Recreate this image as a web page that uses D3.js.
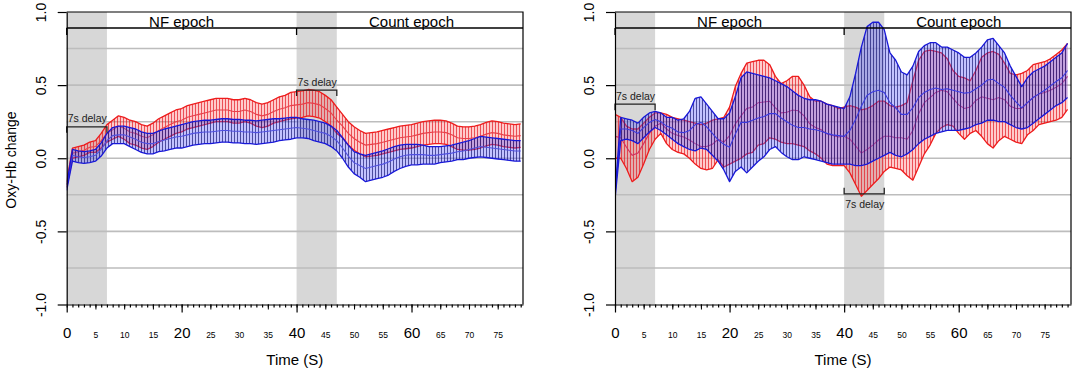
<!DOCTYPE html>
<html>
<head>
<meta charset="utf-8">
<script src="https://cdnjs.cloudflare.com/ajax/libs/d3/7.8.5/d3.min.js"></script>
<style>
  body { margin: 0; background: #fff; }
  svg { font-family: "Liberation Sans", Arial, sans-serif; }
</style>
</head>
<body>
<div id="chart"></div>
<script>

// time in seconds, one sample per second
var time = d3.range(0, 80);

// left panel: mean and standard error, red and blue groups
var leftRedMean = [
  -0.18, 0.035, 0.045, 0.055, 0.075, 0.08, 0.12, 0.17, 0.195, 0.22,
  0.205, 0.18, 0.17, 0.15, 0.14, 0.16, 0.19, 0.21, 0.23, 0.25,
  0.26, 0.28, 0.29, 0.30, 0.31, 0.32, 0.33, 0.33, 0.33, 0.32,
  0.32, 0.33, 0.32, 0.30, 0.29, 0.30, 0.32, 0.335, 0.345, 0.36,
  0.365, 0.37, 0.38, 0.375, 0.365, 0.34, 0.31, 0.26, 0.22, 0.17,
  0.135, 0.11, 0.09, 0.095, 0.10, 0.11, 0.12, 0.13, 0.14, 0.145,
  0.15, 0.16, 0.17, 0.175, 0.18, 0.18, 0.175, 0.16, 0.14, 0.135,
  0.135, 0.14, 0.15, 0.165, 0.175, 0.17, 0.16, 0.155, 0.15, 0.155
];
var leftRedSe = [
  0.02, 0.035, 0.035, 0.035, 0.035, 0.04, 0.05, 0.06, 0.065, 0.07,
  0.075, 0.08, 0.08, 0.08, 0.08, 0.08, 0.08, 0.08, 0.08, 0.08,
  0.08, 0.08, 0.08, 0.08, 0.08, 0.08, 0.08, 0.08, 0.08, 0.08,
  0.08, 0.08, 0.08, 0.08, 0.08, 0.08, 0.08, 0.085, 0.085, 0.09,
  0.09, 0.09, 0.09, 0.09, 0.09, 0.09, 0.09, 0.09, 0.08, 0.08,
  0.08, 0.08, 0.08, 0.08, 0.08, 0.08, 0.08, 0.08, 0.08, 0.08,
  0.08, 0.08, 0.08, 0.08, 0.08, 0.08, 0.08, 0.08, 0.08, 0.08,
  0.08, 0.08, 0.08, 0.08, 0.08, 0.08, 0.08, 0.08, 0.08, 0.08
];
var leftBlueMean = [
  -0.20, 0.02, 0.01, 0.005, 0.01, 0.02, 0.06, 0.12, 0.155, 0.16,
  0.16, 0.145, 0.13, 0.11, 0.10, 0.10, 0.115, 0.125, 0.135, 0.145,
  0.15, 0.16, 0.17, 0.175, 0.18, 0.18, 0.185, 0.19, 0.19, 0.185,
  0.185, 0.18, 0.18, 0.175, 0.18, 0.185, 0.19, 0.195, 0.20, 0.205,
  0.21, 0.205, 0.20, 0.19, 0.18, 0.17, 0.15, 0.12, 0.07, 0.015,
  -0.03, -0.05, -0.07, -0.06, -0.05, -0.04, -0.025, -0.005, 0.01, 0.02,
  0.025, 0.025, 0.025, 0.02, 0.02, 0.025, 0.03, 0.035, 0.045, 0.05,
  0.06, 0.07, 0.08, 0.075, 0.07, 0.065, 0.06, 0.055, 0.05, 0.05
];
var leftBlueSe = [
  0.02, 0.04, 0.04, 0.04, 0.04, 0.04, 0.045, 0.05, 0.055, 0.06,
  0.06, 0.065, 0.07, 0.07, 0.07, 0.07, 0.07, 0.075, 0.075, 0.075,
  0.08, 0.08, 0.08, 0.08, 0.08, 0.08, 0.08, 0.08, 0.08, 0.08,
  0.08, 0.08, 0.08, 0.08, 0.08, 0.08, 0.08, 0.075, 0.075, 0.075,
  0.07, 0.065, 0.065, 0.07, 0.07, 0.07, 0.07, 0.07, 0.07, 0.075,
  0.075, 0.08, 0.09, 0.09, 0.09, 0.09, 0.09, 0.085, 0.08, 0.075,
  0.07, 0.07, 0.065, 0.06, 0.06, 0.055, 0.055, 0.055, 0.055, 0.06,
  0.06, 0.065, 0.07, 0.07, 0.07, 0.07, 0.07, 0.07, 0.07, 0.07
];

// right panel
var rightRedMean = [
  0.15, 0.14, 0.075, 0.02, 0.035, 0.10, 0.17, 0.22, 0.24, 0.20,
  0.17, 0.155, 0.145, 0.125, 0.10, 0.08, 0.08, 0.095, 0.13, 0.11,
  0.155, 0.235, 0.29, 0.34, 0.35, 0.38, 0.385, 0.39, 0.345, 0.31,
  0.315, 0.33, 0.325, 0.29, 0.235, 0.21, 0.195, 0.165, 0.155, 0.145,
  0.15, 0.13, 0.085, 0.035, 0.06, 0.09, 0.125, 0.15, 0.15, 0.14,
  0.14, 0.13, 0.19, 0.305, 0.38, 0.415, 0.45, 0.465, 0.455, 0.41,
  0.365, 0.34, 0.35, 0.395, 0.42, 0.41, 0.40, 0.415, 0.40, 0.355,
  0.34, 0.34, 0.38, 0.415, 0.44, 0.45, 0.465, 0.485, 0.51, 0.56
];
var rightRedSe = [
  0.15, 0.14, 0.145, 0.18, 0.165, 0.14, 0.11, 0.09, 0.07, 0.10,
  0.11, 0.115, 0.115, 0.125, 0.14, 0.15, 0.16, 0.165, 0.14, 0.17,
  0.195, 0.255, 0.29, 0.31, 0.31, 0.29, 0.285, 0.25, 0.215, 0.20,
  0.215, 0.23, 0.235, 0.21, 0.185, 0.18, 0.195, 0.205, 0.205, 0.195,
  0.20, 0.23, 0.265, 0.295, 0.28, 0.27, 0.265, 0.24, 0.21, 0.21,
  0.22, 0.25, 0.34, 0.365, 0.35, 0.325, 0.28, 0.255, 0.225, 0.19,
  0.195, 0.21, 0.18, 0.205, 0.27, 0.31, 0.33, 0.295, 0.25, 0.225,
  0.23, 0.24, 0.22, 0.225, 0.21, 0.21, 0.215, 0.225, 0.23, 0.225
];
var rightBlueMean = [
  -0.26, 0.20, 0.20, 0.19, 0.17, 0.21, 0.245, 0.265, 0.25, 0.22,
  0.205, 0.18, 0.175, 0.19, 0.23, 0.245, 0.215, 0.17, 0.125, 0.095,
  0.075, 0.165, 0.245, 0.245, 0.26, 0.275, 0.285, 0.305, 0.305, 0.275,
  0.25, 0.225, 0.21, 0.21, 0.20, 0.195, 0.185, 0.17, 0.16, 0.155,
  0.15, 0.19, 0.265, 0.355, 0.43, 0.455, 0.465, 0.45, 0.38, 0.345,
  0.30, 0.30, 0.345, 0.415, 0.45, 0.47, 0.48, 0.47, 0.475, 0.465,
  0.455, 0.445, 0.45, 0.475, 0.50, 0.535, 0.54, 0.51, 0.485, 0.43,
  0.385, 0.345, 0.38, 0.415, 0.44, 0.465, 0.495, 0.525, 0.55, 0.60
];
var rightBlueSe = [
  0.02, 0.08, 0.07, 0.07, 0.07, 0.07, 0.065, 0.055, 0.06, 0.06,
  0.075, 0.08, 0.095, 0.13, 0.18, 0.175, 0.155, 0.15, 0.145, 0.175,
  0.235, 0.255, 0.305, 0.345, 0.32, 0.295, 0.275, 0.245, 0.225, 0.235,
  0.24, 0.235, 0.22, 0.20, 0.20, 0.205, 0.205, 0.20, 0.20, 0.195,
  0.19, 0.23, 0.315, 0.405, 0.47, 0.475, 0.465, 0.43, 0.34, 0.325,
  0.29, 0.27, 0.285, 0.315, 0.32, 0.32, 0.31, 0.29, 0.285, 0.275,
  0.265, 0.245, 0.24, 0.245, 0.26, 0.275, 0.28, 0.26, 0.235, 0.20,
  0.175, 0.145, 0.17, 0.175, 0.17, 0.165, 0.165, 0.165, 0.17, 0.185
];

// ticks and annotations
var yTicks = [-1, -0.5, 0, 0.5, 1];
var gridValues = [-0.75, -0.5, -0.25, 0, 0.25, 0.5, 0.75];
var bigTicks = [0, 20, 40, 60];
var smallTicks = [5, 10, 15, 25, 30, 35, 45, 50, 55, 65, 70, 75];
var epochStarts = [0, 40];
var epochNames = ["NF epoch", "Count epoch"];
var epochCentres = [20, 60];
var delayLength = 7;
var leftDelayLevels = [0.215, 0.466];
var rightDelayLevels = [0.37, -0.243];

var plotTop = 12, plotBottom = 304.5;

var svg = d3.select("#chart").append("svg")
  .attr("width", 1084)
  .attr("height", 373);

var defs = svg.append("defs");

// vertical hatching used for the error bands
function addHatch(id, bg, stroke) {
  var p = defs.append("pattern")
    .attr("id", id)
    .attr("patternUnits", "userSpaceOnUse")
    .attr("width", 3)
    .attr("height", 10);
  p.append("rect").attr("width", 3).attr("height", 10).attr("fill", bg);
  p.append("line")
    .attr("x1", 0.5).attr("x2", 0.5).attr("y1", 0).attr("y2", 10)
    .attr("stroke", stroke).attr("stroke-width", 0.8);
}
addHatch("hatchRed", "rgba(255,70,70,0.28)", "rgba(225,20,30,0.85)");
addHatch("hatchBlue", "rgba(80,80,255,0.35)", "rgba(20,20,110,0.85)");

function drawPanel(cfg) {

  var x = d3.scaleLinear().domain([0, cfg.xMax]).range([cfg.left, cfg.right]);
  var y = d3.scaleLinear().domain([-1, 1]).range([plotBottom, plotTop]);

  var g = svg.append("g");

  defs.append("clipPath").attr("id", "clip" + cfg.id)
    .append("rect")
    .attr("x", cfg.left).attr("y", plotTop)
    .attr("width", cfg.right - cfg.left).attr("height", plotBottom - plotTop);

  // grey 7s delay windows
  g.selectAll(".shade").data(epochStarts).enter().append("rect")
    .attr("x", function(d) { return x(d); })
    .attr("width", function(d) { return x(d + delayLength) - x(d); })
    .attr("y", plotTop)
    .attr("height", plotBottom - plotTop)
    .attr("fill", "#d7d7d7");

  // grid lines
  g.selectAll(".grid").data(gridValues).enter().append("line")
    .attr("x1", cfg.left).attr("x2", cfg.right)
    .attr("y1", function(d) { return y(d); })
    .attr("y2", function(d) { return y(d); })
    .attr("stroke", "#bdbdbd")
    .attr("stroke-width", 1.6);

  var data = g.append("g").attr("clip-path", "url(#clip" + cfg.id + ")");

  cfg.series.forEach(function(s) {
    var area = d3.area()
      .x(function(d) { return x(d); })
      .y0(function(d, i) { return y(s.mean[i] - s.se[i]); })
      .y1(function(d, i) { return y(s.mean[i] + s.se[i]); });
    var upper = d3.line()
      .x(function(d) { return x(d); })
      .y(function(d, i) { return y(s.mean[i] + s.se[i]); });
    var lower = d3.line()
      .x(function(d) { return x(d); })
      .y(function(d, i) { return y(s.mean[i] - s.se[i]); });
    var mid = d3.line()
      .x(function(d) { return x(d); })
      .y(function(d, i) { return y(s.mean[i]); });

    data.append("path").datum(time)
      .attr("d", area)
      .attr("fill", "url(#" + s.hatch + ")");
    data.append("path").datum(time)
      .attr("d", mid)
      .attr("fill", "none")
      .attr("stroke", s.midColor)
      .attr("stroke-width", 1.1);
    [upper, lower].forEach(function(l) {
      data.append("path").datum(time)
        .attr("d", l)
        .attr("fill", "none")
        .attr("stroke", s.color)
        .attr("stroke-width", 1.3)
        .attr("stroke-linejoin", "round");
    });
  });

  // epoch bracket along the top
  var epochY = 28;
  g.append("line")
    .attr("x1", x(0)).attr("x2", cfg.right)
    .attr("y1", epochY).attr("y2", epochY)
    .attr("stroke", "#000").attr("stroke-width", 1.3);
  g.selectAll(".etick").data(epochStarts).enter().append("line")
    .attr("x1", function(d) { return x(d); })
    .attr("x2", function(d) { return x(d); })
    .attr("y1", epochY).attr("y2", epochY + 7)
    .attr("stroke", "#000").attr("stroke-width", 1.3);
  g.selectAll(".ename").data(epochNames).enter().append("text")
    .attr("x", function(d, i) { return x(epochCentres[i]); })
    .attr("y", epochY - 1)
    .attr("text-anchor", "middle")
    .attr("font-size", 15)
    .text(function(d) { return d; });

  // 7s delay brackets
  cfg.delayLevels.forEach(function(v, i) {
    var x0 = x(epochStarts[i]), x1 = x(epochStarts[i] + delayLength);
    var yy = y(v);
    var dir = cfg.delayDown[i] ? 1 : -1;
    g.append("path")
      .attr("d", "M" + x0 + "," + (yy + 6 * dir) + "V" + yy + "H" + x1 + "V" + (yy + 6 * dir))
      .attr("fill", "none")
      .attr("stroke", "#222")
      .attr("stroke-width", 1.3);
    g.append("text")
      .attr("x", x0 + 1)
      .attr("y", dir > 0 ? yy - 4.5 : yy + 14)
      .attr("font-size", 10.5)
      .attr("fill", "#222")
      .text("7s delay");
  });

  // y axis
  var yAxis = g.append("g")
    .attr("transform", "translate(" + cfg.left + ",0)")
    .call(d3.axisLeft(y).tickValues(yTicks).tickSize(9).tickSizeOuter(0)
      .tickFormat(function(d) { return d.toFixed(1); }));
  yAxis.selectAll("text")
    .attr("x", 0).attr("dy", 0)
    .attr("text-anchor", "middle")
    .attr("transform", "translate(-21,0) rotate(-90)")
    .attr("font-size", 14)
    .attr("font-family", "Liberation Sans, Arial, sans-serif")
    .attr("fill", "#000");
  yAxis.selectAll("line, path").attr("stroke-width", 1.2);

  // x axis: minor, 5s and 20s ticks
  var xMinor = g.append("g")
    .attr("transform", "translate(0," + plotBottom + ")")
    .call(d3.axisBottom(x).tickValues(time).tickSize(3).tickSizeOuter(0).tickFormat(""));
  xMinor.selectAll("line, path").attr("stroke-width", 1.2);

  var xSmall = g.append("g")
    .attr("transform", "translate(0," + plotBottom + ")")
    .call(d3.axisBottom(x).tickValues(smallTicks).tickSize(5));
  xSmall.select(".domain").remove();
  xSmall.selectAll("text")
    .attr("y", 33.5).attr("dy", 0)
    .attr("font-size", 8.5)
    .attr("font-family", "Liberation Sans, Arial, sans-serif")
    .attr("fill", "#000");

  var xBig = g.append("g")
    .attr("transform", "translate(0," + plotBottom + ")")
    .call(d3.axisBottom(x).tickValues(bigTicks).tickSize(8));
  xBig.select(".domain").remove();
  xBig.selectAll("line").attr("stroke-width", 1.2);
  xBig.selectAll("text")
    .attr("y", 33.5).attr("dy", 0)
    .attr("font-size", 15)
    .attr("font-family", "Liberation Sans, Arial, sans-serif")
    .attr("fill", "#000");

  // box top and right
  g.append("path")
    .attr("d", "M" + cfg.left + "," + plotTop + "H" + cfg.right + "V" + plotBottom)
    .attr("fill", "none")
    .attr("stroke", "#000")
    .attr("stroke-width", 1.2);

  g.append("text")
    .attr("x", (cfg.left + cfg.right) / 2)
    .attr("y", 365)
    .attr("text-anchor", "middle")
    .attr("font-size", 15)
    .text("Time (S)");
}

drawPanel({
  id: "L", left: 66.7, right: 523, xMax: 79.4,
  delayLevels: leftDelayLevels, delayDown: [true, true],
  series: [
    { mean: leftRedMean, se: leftRedSe, hatch: "hatchRed", color: "#ee1c1c", midColor: "#e8404a" },
    { mean: leftBlueMean, se: leftBlueSe, hatch: "hatchBlue", color: "#1818d8", midColor: "#5050e0" }
  ]
});

drawPanel({
  id: "R", left: 615, right: 1071, xMax: 79.6,
  delayLevels: rightDelayLevels, delayDown: [true, false],
  series: [
    { mean: rightRedMean, se: rightRedSe, hatch: "hatchRed", color: "#ee1c1c", midColor: "#d03060" },
    { mean: rightBlueMean, se: rightBlueSe, hatch: "hatchBlue", color: "#1818d8", midColor: "#3a3ae0" }
  ]
});

// y axis title, left panel only
svg.append("text")
  .attr("transform", "translate(16,160) rotate(-90)")
  .attr("text-anchor", "middle")
  .attr("font-size", 14)
  .text("Oxy-Hb change");

</script>
</body>
</html>
